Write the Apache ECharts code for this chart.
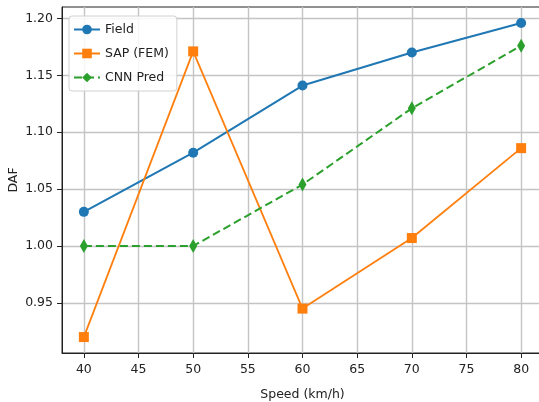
<!DOCTYPE html>
<html>
<head>
<meta charset="utf-8">
<script src="https://cdn.jsdelivr.net/npm/echarts@6/dist/echarts.min.js"></script>
<style>
  html, body { margin: 0; padding: 0; background: #fff; }
  #chart { width: 539px; height: 402px; }
</style>
</head>
<body>
<div id="chart"></div>
<script>
// data
const speeds = [40, 50, 60, 70, 80];
const fieldDaf = [1.030, 1.082, 1.141, 1.170, 1.196];
const sapDaf = [0.920, 1.171, 0.945, 1.007, 1.086];
const cnnDaf = [1.000, 1.000, 1.054, 1.121, 1.176];
const xTicks = [40, 45, 50, 55, 60, 65, 70, 75, 80];
const yTicks = [0.95, 1.00, 1.05, 1.10, 1.15, 1.20];

const font = 'DejaVu Sans';
const pairs = (ys) => speeds.map((s, i) => [s, ys[i]]);

const chart = echarts.init(document.getElementById('chart'));

chart.setOption({
  animation: false,
  textStyle: { fontFamily: font },
  grid: {
    left: 62, top: 7, right: -4, bottom: 49,
    outerBoundsMode: 'none', containLabel: false,
    show: true, borderColor: '#222', borderWidth: 1
  },
  legend: {
    left: 69, top: 16,
    orient: 'vertical',
    itemWidth: 26, itemHeight: 12, itemGap: 11,
    padding: [7, 8, 7, 4],
    backgroundColor: 'rgba(255,255,255,0.85)',
    borderColor: '#d0d0d0', borderWidth: 1, borderRadius: 3,
    textStyle: { fontFamily: font, fontSize: 12.5, color: '#222' },
    data: ['Field', 'SAP (FEM)', 'CNN Pred']
  },
  xAxis: {
    type: 'value', min: 38, max: 82,
    name: 'Speed (km/h)', nameLocation: 'middle', nameGap: 35,
    nameMoveOverlap: false,
    nameTextStyle: { fontFamily: font, fontSize: 12.5, color: '#222' },
    axisLine: { lineStyle: { color: '#222', width: 1 } },
    axisTick: { customValues: xTicks, length: 5, lineStyle: { color: '#222' } },
    axisLabel: { customValues: xTicks, fontSize: 12.5, color: '#222', margin: 10 },
    splitLine: { show: true, lineStyle: { color: '#c4c4c4', width: 1.4 } }
  },
  yAxis: {
    type: 'value', min: 0.906, max: 1.21,
    name: 'DAF', nameLocation: 'middle', nameGap: 42, nameRotate: 90,
    nameMoveOverlap: false,
    nameTextStyle: { fontFamily: font, fontSize: 12.5, color: '#222' },
    axisLine: { show: true, lineStyle: { color: '#222', width: 1 } },
    axisTick: { show: true, customValues: yTicks, length: 5, lineStyle: { color: '#222' } },
    axisLabel: {
      customValues: yTicks, fontSize: 12.5, color: '#222', margin: 9,
      formatter: (v) => v.toFixed(2)
    },
    splitLine: { show: true, lineStyle: { color: '#c4c4c4', width: 1.4 } }
  },
  series: [
    {
      name: 'Field', type: 'line', data: pairs(fieldDaf),
      color: '#1f77b4', symbol: 'circle', symbolSize: 10,
      lineStyle: { width: 2 }, itemStyle: { color: '#1f77b4' }, z: 3
    },
    {
      name: 'SAP (FEM)', type: 'line', data: pairs(sapDaf),
      color: '#ff7f0e', symbol: 'rect', symbolSize: 10,
      lineStyle: { width: 1.8 }, itemStyle: { color: '#ff7f0e' }, z: 4
    },
    {
      name: 'CNN Pred', type: 'line', data: pairs(cnnDaf),
      color: '#2ca02c', symbol: 'diamond', symbolSize: [8, 14],
      lineStyle: { width: 2, type: 'dashed' }, itemStyle: { color: '#2ca02c' }, z: 5
    }
  ]
});
</script>
</body>
</html>
